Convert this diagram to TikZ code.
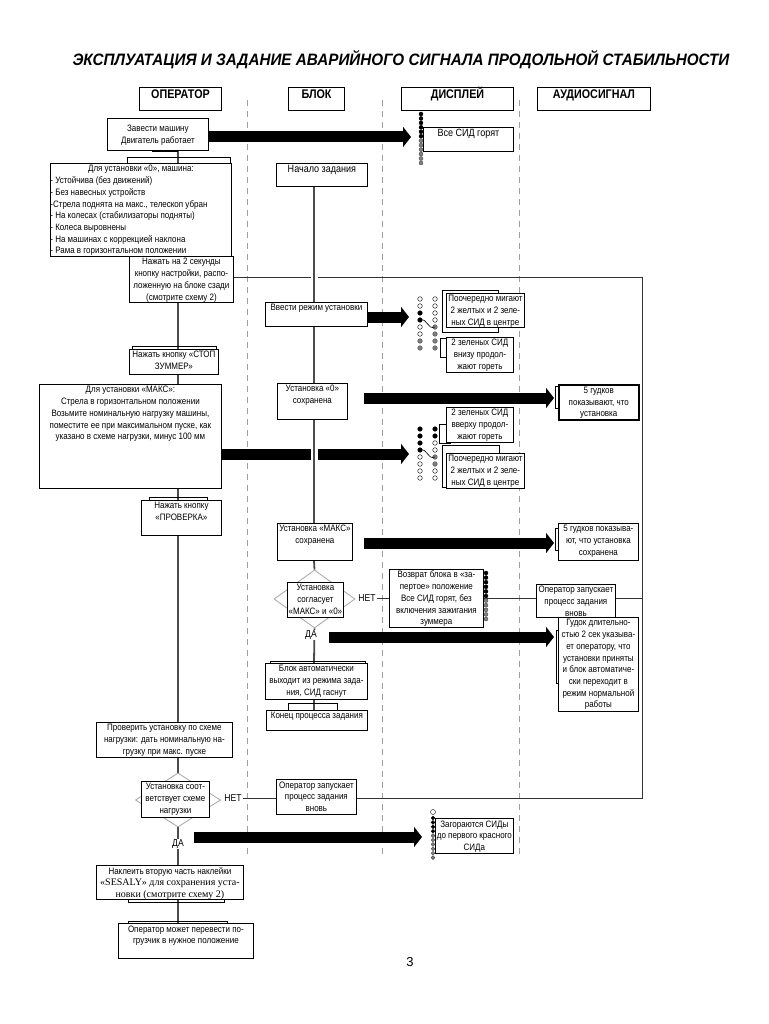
\documentclass[tikz,border=0pt]{standalone}
\usepackage{fontspec}
\usepackage{graphicx}
\setmainfont{Liberation Sans}[FakeStretch=0.86]
\newfontfamily\serifn{Liberation Serif}
\newfontfamily\plainsans{Liberation Sans}
\usetikzlibrary{arrows.meta,calc,shapes.geometric}
\pgfdeclarelayer{bg}
\pgfsetlayers{bg,main}
\newcommand\ctr{\centering\leftskip=-6pt plus 1fil\rightskip=-6pt plus 1fil\relax}
\newcommand\bx[8][]{\node[box,#1,anchor=north west] (#2) at (#3,#4) {\parbox[c][\dimexpr#6pt-#4pt\relax][#7]{\dimexpr#5pt-#3pt\relax}{\ctr\if t#7\vspace*{0.4pt}\fi\strut #8}};}
\newcommand\hd[5]{\node[hdr,anchor=north west] (#1) at (#2,#3) {\parbox[c][\dimexpr#5pt-#3pt\relax][t]{\dimexpr#4pt-#2pt\relax}{\ctr\vspace*{1pt}\strut\smash{#1text}}};}
\newcommand\ledd[4]{%
  \if b#4\filldraw[fill=black,draw=black,line width=0.4pt] (#1,{#2}) circle[radius=#3];\fi
  \if o#4\filldraw[fill=white,draw=black,line width=0.4pt] (#1,{#2}) circle[radius=#3];\fi
  \if g#4\filldraw[fill=gray,draw=black!70,line width=0.4pt] (#1,{#2}) circle[radius=#3];\fi}
\tikzset{
 box/.style={draw=black, line width=0.8pt, fill=white, inner sep=0pt, font=\fontsize{9.3}{11.7}\selectfont},
 thickbox/.style={line width=1.5pt},
 hdr/.style={draw=black, line width=1pt, fill=white, inner sep=0pt, font=\fontsize{12.5}{14}\selectfont\bfseries},
 lane/.style={draw=gray!75, line width=0.8pt, dash pattern=on 6pt off 5pt},
 life/.style={draw=gray!60!black, line width=1.1pt},
 lifeb/.style={draw=gray!60!black, line width=1.8pt, preaction={draw=white, line width=7pt}},
 conn/.style={draw=gray!40!black, line width=0.9pt},
 brk/.style={draw=black, line width=0.6pt},
 bigarrow/.style={draw=black, line width=11pt, -{Triangle[length=8pt,width=20pt]}},
 lbl/.style={font=\fontsize{10}{12}\selectfont, fill=white, inner sep=1pt},
 dia/.style={draw=gray!70, line width=0.8pt, diamond, inner sep=0pt, fill=white},
}
\begin{document}
\begin{tikzpicture}[x=1pt,y=-1pt]
\useasboundingbox (0,0) rectangle (768,1024);
\node[font=\fontsize{16.5}{19}\selectfont\bfseries\itshape, inner sep=0pt] (title) at (401,60) {\resizebox{657pt}{\height}{ЭКСПЛУАТАЦИЯ И ЗАДАНИЕ АВАРИЙНОГО СИГНАЛА ПРОДОЛЬНОЙ СТАБИЛЬНОСТИ}};
% headers
\node[hdr,anchor=north west] (hop) at (139,87) {\parbox[c][23pt][t]{82pt}{\ctr\vspace*{1pt}\strut\smash{ОПЕРАТОР}}};
\node[hdr,anchor=north west] (hbl) at (288,87) {\parbox[c][23pt][t]{56pt}{\ctr\vspace*{1pt}\strut\smash{БЛОК}}};
\node[hdr,anchor=north west] (hdi) at (401,87) {\parbox[c][23pt][t]{112pt}{\ctr\vspace*{1pt}\strut\smash{ДИСПЛЕЙ}}};
\node[hdr,anchor=north west] (hau) at (537,87) {\parbox[c][23pt][t]{113pt}{\ctr\vspace*{1pt}\strut\smash{АУДИОСИГНАЛ}}};
% boxes
\bx{zav}{107}{118}{208}{150}{c}{Завести машину\\Двигатель работает}
\bx[font=\fontsize{10.5}{12}\selectfont]{vse}{423}{127}{513}{151}{t}{Все СИД горят}
\bx{dlya0}{50}{163}{231}{256}{t}{Для установки «0», машина:\par\raggedright\rightskip=-6pt plus 1fil\relax - Устойчива (без движений)\\- Без навесных устройств\\-Стрела поднята на макс., телескоп убран\\- На колесах (стабилизаторы подняты)\\- Колеса выровнены\\- На машинах с коррекцией наклона\\- Рама в горизонтальном положении}
\bx[font=\fontsize{10.5}{12}\selectfont]{nach}{276}{163}{367}{186}{t}{Начало задания}
\bx{nazhat2}{129}{256}{233}{302}{t}{Нажать на 2 секунды\\кнопку настройки, распо-\\ложенную на блоке сзади\\(смотрите схему 2)}
\bx{vvesti}{265}{302}{367}{326}{t}{Ввести режим установки}
\bx{pool1}{446}{293}{524}{327}{t}{Поочередно мигают\\2 желтых и 2 зеле-\\ных СИД в центре}
\bx{zel1}{446}{337}{513}{372}{t}{2 зеленых СИД\\внизу продол-\\жают гореть}
\bx{stop}{129}{349}{218}{374}{t}{Нажать кнопку «СТОП\\ЗУММЕР»}
\bx{maks}{39}{384}{221}{488}{t}{Для установки «МАКС»:\\Стрела в горизонтальном положении\\Возьмите номинальную нагрузку машины,\\поместите ее при максимальном пуске, как\\указано в схеме нагрузки, минус 100 мм}
\bx{ust0}{277}{383}{347}{419}{t}{Установка «0»\\сохранена}
\bx[thickbox]{gud1}{558}{384}{638}{419}{t}{5 гудков\\показывают, что\\установка}
\bx{zel2}{446}{407}{513}{442}{t}{2 зеленых СИД\\вверху продол-\\жают гореть}
\bx{pool2}{446}{453}{524}{488}{t}{Поочередно мигают\\2 желтых и 2 зеле-\\ных СИД в центре}
\bx{prov}{141}{500}{221}{535}{t}{Нажать кнопку\\«ПРОВЕРКА»}
\bx{ustm}{277}{523}{352}{560}{t}{Установка «МАКС»\\сохранена}
\bx{gud2}{558}{523}{638}{560}{t}{5 гудков показыва-\\ют, что установка\\сохранена}
\node[dia, minimum width=81pt, minimum height=58pt] (d1) at (314.5,599) {};
\bx{d1t}{287}{582}{343}{617}{t}{Установка\\согласует\\«МАКС» и «0»}
\bx{vozv}{389}{569}{483}{627}{t}{Возврат блока в «за-\\пертое» положение\\Все СИД горят, без\\включения зажигания\\зуммера}
\bx{opz1}{536}{584}{615}{617}{t}{Оператор запускает\\процесс задания\\вновь}
\bx{gudok}{558}{617}{638}{711}{t}{Гудок длительно-\\стью 2 сек указыва-\\ет оператору, что\\установки приняты\\и блок автоматиче-\\ски переходит в\\режим нормальной\\работы}
\bx{blok}{265}{663}{367}{699}{t}{Блок автоматически\\выходит из режима зада-\\ния, СИД гаснут}
\bx{konets}{266}{710}{367}{730}{t}{Конец процесса задания}
\bx{prover}{96}{722}{232}{757}{t}{Проверить установку по схеме\\нагрузки: дать номинальную на-\\грузку при макс. пуске}
\node[dia, minimum width=85pt, minimum height=54pt] (d2) at (178,800) {};
\bx{d2t}{141}{781}{209}{817}{t}{Установка соот-\\ветствует схеме\\нагрузки}
\bx{opz2}{276}{779}{356}{814}{t}{Оператор запускает\\процесс задания\\вновь}
\bx{zag}{435}{818}{513}{853}{t}{Загораются СИДы\\до первого красного\\СИДа}
\bx{nakl}{96}{865}{243}{899}{t}{Наклеить вторую часть наклейки\\{\serifn\fontsize{10}{11.7}\selectfont «SESALY» для сохранения уста-\\новки (смотрите схему 2)}}
\bx{opmozh}{118}{923}{253}{958}{t}{Оператор может перевести по-\\грузчик в нужное положение}
% labels
\node[lbl] (net1) at (367,598) {НЕТ};
\node[lbl] (net2) at (233,798) {НЕТ};
\node[lbl] (da1) at (311,635) {ДА};
\node[lbl] (da2) at (178,844) {ДА};
\node[font=\plainsans\fontsize{13}{15}\selectfont] (pg) at (410,962) {3};
% LEDs
\foreach \c [count=\i from 0] in {b,b,b,b,b,b,g,g,g,g,g,g} {\ledd{421}{114+4.45*\i}{2}{\c}}
\foreach \c [count=\i from 0] in {o,o,b,b,o,o,g,g} {\ledd{420}{299+7*\i}{2.3}{\c}}
\foreach \c [count=\i from 0] in {o,o,o,o,g,g,g,g} {\ledd{435}{299+7*\i}{2.3}{\c}}
\foreach \c [count=\i from 0] in {b,b,b,b,o,o,o,o} {\ledd{420}{429+7*\i}{2.3}{\c}}
\foreach \c [count=\i from 0] in {b,b,o,o,g,g,o,o} {\ledd{435}{429+7*\i}{2.3}{\c}}
\foreach \c [count=\i from 0] in {b,b,b,b,b,b,g,g,g,g,g} {\ledd{486}{573+4.6*\i}{2}{\c}}
\ledd{433}{812}{2.5}{o}
\foreach \c [count=\i from 0] in {b,b,b,b,g,g,g,g,g,g} {\ledd{433}{818+4.4*\i}{1.9}{\c}}
\draw[line width=0.6pt] (420,320) .. controls (428,318) and (427,330) .. (435,327);
\draw[line width=0.6pt] (420,450) .. controls (428,448) and (427,460) .. (435,457);
% background layer
\begin{pgfonlayer}{bg}
\fill[white] (0,0) rectangle (768,1024);
\foreach \x in {247,382,519} \draw[lane] (\x,100) -- (\x,856);
\coordinate (opx) at (178,0);
\coordinate (blx) at (314,0);
\coordinate (tA) at (411,137);
\coordinate (tB) at (409,317);
\coordinate (tC) at (554,398);
\coordinate (tD) at (409,454);
\coordinate (tE) at (554,543);
\coordinate (tF) at (554,637);
\coordinate (tG) at (422,837);
\draw[bigarrow] (zav.east |- tA) -- (tA);
\draw[bigarrow] (vvesti.east |- tB) -- (tB);
\draw[bigarrow] ($(ust0.east |- tC)+(16,0)$) -- (tC);
\draw[bigarrow] (maks.east |- tD) -- (tD);
\draw[bigarrow] ($(ustm.east |- tE)+(11,0)$) -- (tE);
\draw[bigarrow] ($(da1.east |- tF)+(11,0)$) -- (tF);
\draw[bigarrow] ($(da2.east |- tG)+(9,0)$) -- (tG);
\coordinate (cTop) at (642,277);
\coordinate (cMid) at (642,598);
\coordinate (cBot) at (642,798);
\draw[conn] (nazhat2.east |- cTop) -- (cTop) -- (cBot) -- (net2.east |- cBot);
\draw[conn] (vozv.east |- cMid) -- (cMid);
\draw[conn] (net1.east) -- (vozv.west |- net1.east);
\draw[life] (zav.south -| opx) -- (dlya0.north -| opx);
\draw[life] (nazhat2.south -| opx) -- (stop.north -| opx);
\draw[life] (stop.south -| opx) -- (maks.north -| opx);
\draw[life] (maks.south -| opx) -- (prov.north -| opx);
\draw[life] (prov.south -| opx) -- (prover.north -| opx);
\draw[life] (prover.south -| opx) -- (d2.north);
\draw[life] (d2.south) -- (nakl.north -| opx);
\draw[life] (nakl.south -| opx) -- (opmozh.north -| opx);
\draw[lifeb] (nach.south -| blx) -- (vvesti.north -| blx);
\draw[lifeb] (vvesti.south -| blx) -- (ust0.north -| blx);
\draw[lifeb] (ust0.south -| blx) -- (ustm.north -| blx);
\draw[lifeb] (ustm.south -| blx) -- (d1.north);
\draw[lifeb] (d1.south) -- (blok.north -| blx);
\draw[lifeb] (blok.south -| blx) -- (konets.north -| blx);
\draw[brk] (127,157) rectangle (230,170);
\draw[brk] (132,346) rectangle (216,355);
\draw[brk] (149,497) rectangle (207,505);
\draw[brk] (270,661) rectangle (365,670);
\draw[brk] (288,703) rectangle (337,712);
\draw[brk] (128,890) rectangle (224,902);
\draw[brk] (128,921) rectangle (227,930);
\draw[brk] (442,290) rectangle (498,332);
\draw[brk] (442,445) rectangle (499,487);
\draw[brk] (440,338) rectangle (450,357);
\draw[brk] (439,424) rectangle (450,443);
\draw[brk] (555,386) rectangle (562,408);
\draw[brk] (555,528) rectangle (562,550);
\draw[brk] (556,630) rectangle (562,683);
\fill (152,149.6) rectangle (178,152.4);
\end{pgfonlayer}
\end{tikzpicture}
\end{document}
